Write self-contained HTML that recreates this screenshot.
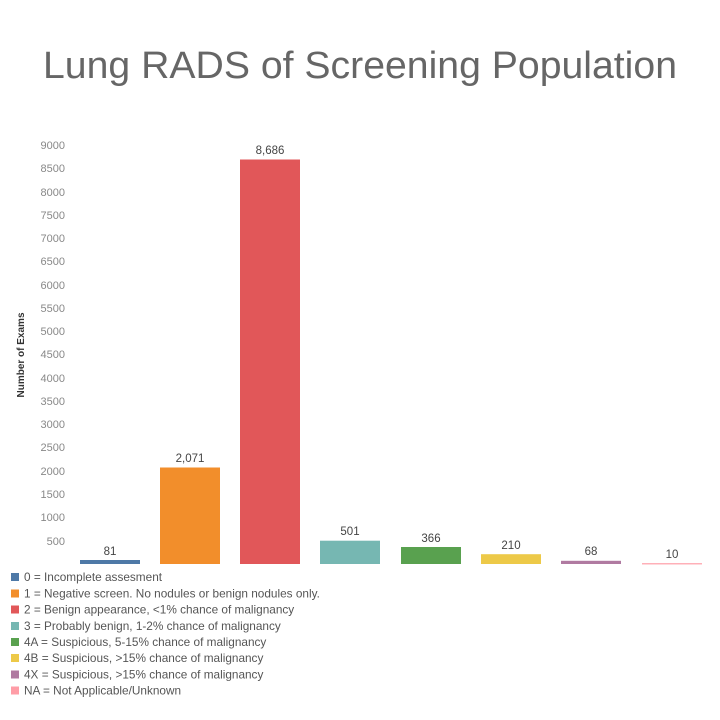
<!DOCTYPE html>
<html><head><meta charset="utf-8"><style>body{margin:0;background:#fff}svg{display:block}</style></head><body>
<svg width="720" height="720" xmlns="http://www.w3.org/2000/svg" font-family="Liberation Sans, sans-serif">
<text x="360" y="78" text-anchor="middle" font-size="38" fill="#666" textLength="634" lengthAdjust="spacingAndGlyphs">Lung RADS of Screening Population</text>
<g font-size="11" fill="#888" text-anchor="end">
<text x="65" y="149">9000</text><text x="65" y="172">8500</text><text x="65" y="196">8000</text><text x="65" y="219">7500</text><text x="65" y="242">7000</text><text x="65" y="265">6500</text><text x="65" y="289">6000</text><text x="65" y="312">5500</text><text x="65" y="335">5000</text><text x="65" y="358">4500</text><text x="65" y="382">4000</text><text x="65" y="405">3500</text><text x="65" y="428">3000</text><text x="65" y="451">2500</text><text x="65" y="475">2000</text><text x="65" y="498">1500</text><text x="65" y="521">1000</text><text x="65" y="545">500</text>
</g>
<text transform="translate(24,355) rotate(-90)" text-anchor="middle" font-size="10" font-weight="bold" fill="#333">Number of Exams</text>
<g>
<rect x="80" y="560" width="60" height="4" fill="#4e79a7"/>
<rect x="160" y="467.5" width="60" height="96.5" fill="#f28e2b"/>
<rect x="240" y="159.5" width="60" height="404.5" fill="#e15759"/>
<rect x="320" y="540.7" width="60" height="23.3" fill="#76b7b2"/>
<rect x="401" y="547" width="60" height="17" fill="#59a14f"/>
<rect x="481" y="554.2" width="60" height="9.8" fill="#edc948"/>
<rect x="561" y="560.8" width="60" height="3.2" fill="#b07aa1"/>
<rect x="642" y="563" width="60" height="1.5" fill="#ffb0b8"/>
</g>
<g font-size="11.5" fill="#444" text-anchor="middle">
<text x="110" y="555">81</text><text x="190" y="462">2,071</text><text x="270" y="154">8,686</text><text x="350" y="535">501</text><text x="431" y="542">366</text><text x="511" y="549">210</text><text x="591" y="555">68</text><text x="672" y="558">10</text>
</g>
<g font-size="11.8" fill="#555">
<rect x="11" y="573" width="8" height="8" fill="#4e79a7"/><text x="24" y="581">0 = Incomplete assesment</text>
<rect x="11" y="589.5" width="8" height="8" fill="#f28e2b"/><text x="24" y="597.5">1 = Negative screen. No nodules or benign nodules only.</text>
<rect x="11" y="605.5" width="8" height="8" fill="#e15759"/><text x="24" y="613.5">2 = Benign appearance, &lt;1% chance of malignancy</text>
<rect x="11" y="622" width="8" height="8" fill="#76b7b2"/><text x="24" y="630">3 = Probably benign, 1-2% chance of malignancy</text>
<rect x="11" y="638" width="8" height="8" fill="#59a14f"/><text x="24" y="646">4A = Suspicious, 5-15% chance of malignancy</text>
<rect x="11" y="654" width="8" height="8" fill="#edc948"/><text x="24" y="662">4B = Suspicious, &gt;15% chance of malignancy</text>
<rect x="11" y="670.5" width="8" height="8" fill="#b07aa1"/><text x="24" y="678.5">4X = Suspicious, &gt;15% chance of malignancy</text>
<rect x="11" y="686.5" width="8" height="8" fill="#ff9da7"/><text x="24" y="694.5">NA = Not Applicable/Unknown</text>
</g>
</svg>
</body></html>
